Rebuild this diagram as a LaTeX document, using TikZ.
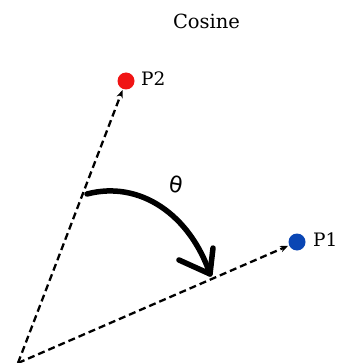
\documentclass[tikz,border=0pt]{standalone}
\usepackage{fontspec}
\setmainfont{DejaVu Serif}
\newfontfamily\thfont{DejaVu Sans}
\usetikzlibrary{arrows.meta}
\begin{document}
\begin{tikzpicture}[x=1pt,y=-1pt,
  dot/.style={circle,inner sep=0pt,minimum size=17pt},
  vec/.style={dash pattern=on 7pt off 4pt,line width=2.3pt,-{Stealth[length=8pt,width=6.5pt]},shorten >=1pt},
  lbl/.style={font=\fontsize{18.5}{20}\selectfont,anchor=west,inner sep=0pt},
  turn/.style={line width=5.5pt,line cap=round,line join=round}]
\useasboundingbox (0,0) rectangle (345,363);
\node[font=\fontsize{19.5}{22}\selectfont] (title) at (206.5,21) {Cosine};
\coordinate (O) at (18,363);
\node[dot,fill={rgb,255:red,240;green,20;blue,20}] (p2) at (126,81) {};
\node[dot,fill={rgb,255:red,10;green,70;blue,180}] (p1) at (297,242) {};
\node[lbl] (l2) at (141,79) {P2};
\node[lbl] (l1) at (313,240) {P1};
\draw[vec] (O) -- (p2);
\draw[vec] (O) -- (p1);
\node[font=\thfont\fontsize{22}{24}\selectfont,rotate=-10] (th) at (176,184) {θ};
\coordinate (s) at (87,194);
\coordinate (t) at (210,274);
\coordinate (b1) at (179,260);
\coordinate (b2) at (213,248);
\draw[turn] (s) .. controls (140,180) and (190,215) .. (t);
\draw[turn] (b1) -- (t) -- (b2);
\end{tikzpicture}
\end{document}
